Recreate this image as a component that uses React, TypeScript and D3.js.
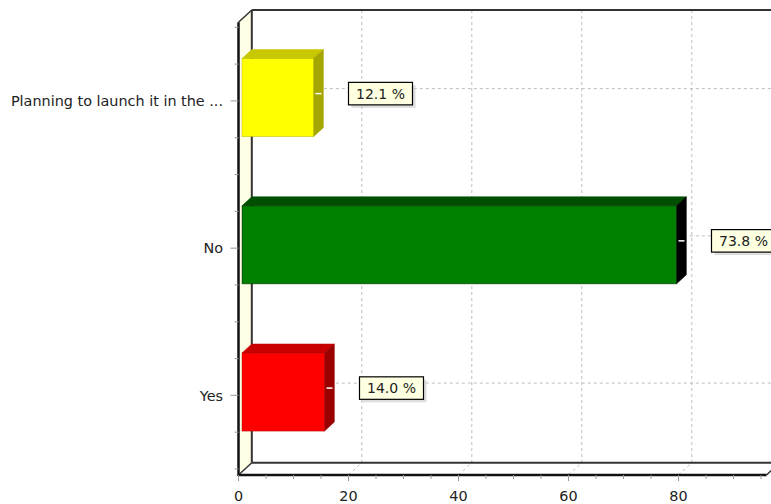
import React from "react";
import * as d3 from "d3";

// Data (top-to-bottom order as shown)
const categories = ["Planning to launch it in the ...", "No", "Yes"];
const counts = [13, 79, 15];
const percentLabels = ["12.1 %", "73.8 %", "14.0 %"];
const frontColors = ["#ffff00", "#008000", "#ff0000"];
const topColors = ["#c8c800", "#004f00", "#c80000"];
const sideColors = ["#a6a600", "#000000", "#9a0000"];
const xTicks = [0, 20, 40, 60, 80];
const xMinorTicks = d3.range(0, 100, 5);

const W = 771;
const H = 504;
const DX = 13.3; // depth offset of the back wall
const DY = -12.3;
const BDX0 = 3.5; // bar front offset from front plane
const BDY0 = -3.3;
const BDX = 9.8; // bar depth
const BDY = -9;
const FRONT_TOP = 22.3;
const FRONT_BOTTOM = 475;
const FONT = "'DejaVu Sans', Verdana, sans-serif";

export default function App() {
  const x = d3.scaleLinear().domain([0, 96]).range([238.5, 766.5]);
  const y = d3.scaleBand<string>().domain(categories).range([27.3, 469]);
  const bw = y.bandwidth();
  const barH = bw * 0.53;
  const x0 = x(0);
  const xEnd = x(96);

  const quarterTicks: number[] = [];
  categories.forEach((c) => {
    const s = y(c)!;
    [0, 0.25, 0.75].forEach((f) => quarterTicks.push(s + f * bw));
  });
  quarterTicks.push(y.range()[1]);

  const pts = (a: number[][]) => a.map((p) => p.join(",")).join(" ");

  return (
    <svg
      width={W}
      height={H}
      style={{ position: "absolute", left: 0, top: 0, background: "#fff" }}
      fontFamily={FONT}
    >
      {/* left wall (cream) */}
      <polygon
        points={pts([
          [x0, FRONT_TOP],
          [x0 + DX, FRONT_TOP + DY],
          [x0 + DX, FRONT_BOTTOM + DY],
          [x0, FRONT_BOTTOM],
        ])}
        fill="#ffffe6"
      />
      {/* vertical grid lines on back wall and floor diagonals */}
      {xTicks.slice(1).concat([100]).map((t) => (
        <g key={"g" + t}>
          <line
            x1={x(t) + DX}
            x2={x(t) + DX}
            y1={FRONT_TOP + DY}
            y2={FRONT_BOTTOM + DY}
            stroke="#bdbdbd"
            strokeDasharray="3,3"
          />
          <line
            x1={x(t)}
            x2={x(t) + DX}
            y1={FRONT_BOTTOM}
            y2={FRONT_BOTTOM + DY}
            stroke="#bdbdbd"
            strokeDasharray="3,3"
          />
        </g>
      ))}
      {/* horizontal grid lines on back wall */}
      {categories.map((c) => {
        const cy = y(c)! + bw / 2 + DY;
        return (
          <line
            key={"h" + c}
            x1={x0 + DX}
            x2={W + 20}
            y1={cy}
            y2={cy}
            stroke="#bdbdbd"
            strokeDasharray="3,3"
          />
        );
      })}
      {/* back wall frame */}
      <line x1={x0 + DX} x2={W + 20} y1={FRONT_TOP + DY} y2={FRONT_TOP + DY} stroke="#333" strokeWidth={2} />
      <line x1={x0 + DX} x2={x0 + DX} y1={FRONT_TOP + DY} y2={FRONT_BOTTOM + DY} stroke="#333" strokeWidth={2} />
      <line x1={x0 + DX} x2={W + 20} y1={FRONT_BOTTOM + DY} y2={FRONT_BOTTOM + DY} stroke="#333" strokeWidth={2} />
      <line x1={x0} x2={x0 + DX} y1={FRONT_TOP} y2={FRONT_TOP + DY} stroke="#333" strokeWidth={1.5} />
      <line x1={x0} x2={x0 + DX} y1={FRONT_BOTTOM} y2={FRONT_BOTTOM + DY} stroke="#333" strokeWidth={1.5} />
      <line x1={xEnd} x2={xEnd + DX} y1={FRONT_BOTTOM} y2={FRONT_BOTTOM + DY} stroke="#333" strokeWidth={1.5} />
      {/* front axis lines */}
      <line x1={x0} x2={x0} y1={FRONT_TOP} y2={FRONT_BOTTOM + 1} stroke="#111" strokeWidth={2.5} />
      <line x1={x0} x2={xEnd} y1={FRONT_BOTTOM} y2={FRONT_BOTTOM} stroke="#111" strokeWidth={2.5} />

      {/* bars */}
      {categories.map((c, i) => {
        const cy = y(c)! + bw / 2 + BDY0;
        const top = cy - barH / 2;
        const bot = cy + barH / 2;
        const l = x(0) + BDX0;
        const r = x(counts[i]) + BDX0;
        return (
          <g key={"b" + c}>
            <polygon
              points={pts([
                [l, top],
                [l + BDX, top + BDY],
                [r + BDX, top + BDY],
                [r, top],
              ])}
              fill={topColors[i]}
              stroke={topColors[i]}
              strokeWidth={0.6}
            />
            <polygon
              points={pts([
                [r, top],
                [r + BDX, top + BDY],
                [r + BDX, bot + BDY],
                [r, bot],
              ])}
              fill={sideColors[i]}
              stroke={sideColors[i]}
              strokeWidth={0.6}
            />
            <rect
              x={l}
              y={top}
              width={r - l}
              height={bot - top}
              fill={frontColors[i]}
              stroke={sideColors[i]}
              strokeOpacity={0.5}
              strokeWidth={0.8}
            />
          </g>
        );
      })}

      {/* value labels */}
      {categories.map((c, i) => {
        const cy = y(c)! + bw / 2 - 7.3;
        const r = x(counts[i]) + BDX0;
        const bx = r + 35;
        const bwid = 64;
        const bh = 22.5;
        return (
          <g key={"l" + c}>
            <line x1={r + 2} x2={r + 8} y1={cy} y2={cy} stroke="#ffffff" strokeWidth={1.5} />
            <rect x={bx + 3} y={cy - bh / 2 + 3} width={bwid} height={bh} fill="#c8c8c8" opacity={0.6} />
            <rect x={bx} y={cy - bh / 2} width={bwid} height={bh} fill="#ffffe1" stroke="#000" strokeWidth={1.2} />
            <text
              x={bx + bwid / 2}
              y={cy}
              dy="0.36em"
              textAnchor="middle"
              fontSize={14}
              fill="#222"
            >
              {percentLabels[i]}
            </text>
          </g>
        );
      })}

      {/* y axis ticks and labels */}
      {quarterTicks.map((t, i) => (
        <line key={"yt" + i} x1={x0 - 4} x2={x0} y1={t} y2={t} stroke="#999" />
      ))}
      {categories.map((c) => {
        const cy = y(c)! + bw / 2;
        return (
          <g key={"yl" + c}>
            <line x1={x0 - 8} x2={x0} y1={cy} y2={cy} stroke="#999" />
            <text x={223} y={cy} dy="0.36em" textAnchor="end" fontSize={14.4} fill="#222">
              {c}
            </text>
          </g>
        );
      })}

      {/* x axis ticks and labels */}
      {xMinorTicks.map((t) => (
        <line
          key={"xt" + t}
          x1={x(t)}
          x2={x(t)}
          y1={FRONT_BOTTOM}
          y2={FRONT_BOTTOM + (t % 20 === 0 ? 6 : 4)}
          stroke="#999"
        />
      ))}
      {xTicks.map((t) => (
        <text key={"xl" + t} x={x(t)} y={500.5} textAnchor="middle" fontSize={14.4} fill="#222">
          {t}
        </text>
      ))}
    </svg>
  );
}
